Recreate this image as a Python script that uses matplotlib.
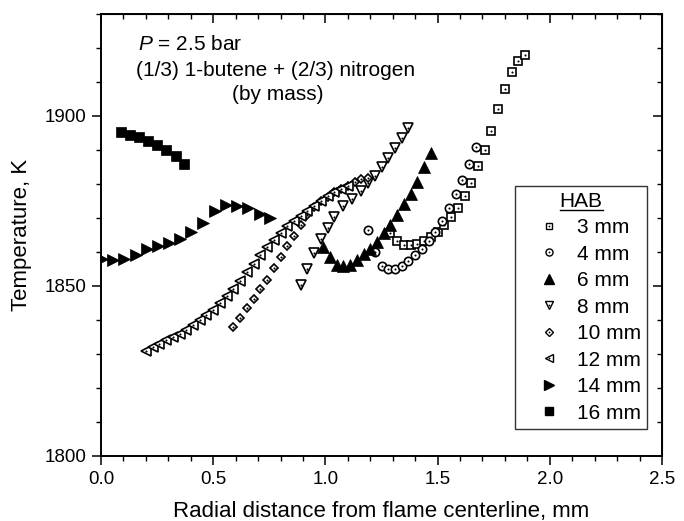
import matplotlib
matplotlib.use("Agg")
import matplotlib.pyplot as plt
from matplotlib.ticker import MultipleLocator
from matplotlib.lines import Line2D

plt.rcParams["font.family"] = ["Liberation Sans", "DejaVu Sans"]
plt.rcParams["mathtext.fontset"] = "custom"
plt.rcParams["mathtext.it"] = "Liberation Sans:italic"
plt.rcParams["mathtext.rm"] = "Liberation Sans"

# radial distance (mm) and temperature (K) for each height above burner
r_3mm = [1.29, 1.32, 1.35, 1.38, 1.41, 1.44, 1.47, 1.50, 1.53, 1.56, 1.59,
         1.62, 1.65, 1.68, 1.71, 1.74, 1.77, 1.80, 1.83, 1.86, 1.89]
t_3mm = [1865.7, 1863.2, 1862.0, 1862.0, 1862.4, 1863.2, 1864.5, 1866.0, 1868.0,
         1870.3, 1873.0, 1876.5, 1880.4, 1885.2, 1890.0, 1895.7, 1902.0, 1908.0,
         1913.0, 1916.3, 1917.8]

r_4mm = [1.19, 1.22, 1.25, 1.28, 1.31, 1.34, 1.37, 1.40, 1.43, 1.46, 1.49,
         1.52, 1.55, 1.58, 1.61, 1.64, 1.67]
t_4mm = [1866.5, 1860.0, 1856.0, 1855.0, 1855.0, 1855.8, 1857.3, 1859.0, 1861.0,
         1863.2, 1866.0, 1869.2, 1873.0, 1877.0, 1881.2, 1885.8, 1891.0]

r_6mm = [0.99, 1.02, 1.05, 1.08, 1.11, 1.14, 1.17, 1.20, 1.23, 1.26, 1.29,
         1.32, 1.35, 1.38, 1.41, 1.44, 1.47]
t_6mm = [1861.5, 1858.5, 1856.3, 1855.8, 1856.3, 1857.6, 1859.3, 1861.0, 1863.0,
         1865.5, 1868.0, 1871.0, 1874.0, 1877.0, 1880.6, 1885.0, 1889.0]

r_8mm = [0.89, 0.92, 0.95, 0.98, 1.01, 1.04, 1.08, 1.12, 1.16, 1.19, 1.22,
         1.25, 1.28, 1.31, 1.34, 1.37]
t_8mm = [1850.4, 1855.1, 1859.6, 1863.9, 1867.2, 1870.4, 1873.4, 1875.7, 1878.0,
         1880.4, 1882.4, 1885.0, 1887.5, 1890.5, 1893.4, 1896.4]

r_10mm = [0.59, 0.62, 0.65, 0.68, 0.71, 0.74, 0.77, 0.80, 0.83, 0.86, 0.89,
          0.92, 0.95, 0.98, 1.01, 1.04, 1.07, 1.10, 1.13, 1.16, 1.19]
t_10mm = [1838.0, 1840.6, 1843.6, 1846.2, 1849.2, 1851.9, 1855.4, 1858.6, 1861.7,
          1864.7, 1868.0, 1871.0, 1873.2, 1875.0, 1876.3, 1877.5, 1878.5, 1879.4,
          1880.6, 1881.4, 1881.9]

r_12mm = [0.20, 0.23, 0.26, 0.29, 0.32, 0.35, 0.38, 0.41, 0.44, 0.47, 0.50,
          0.53, 0.56, 0.59, 0.62, 0.65, 0.68, 0.71, 0.74, 0.77, 0.80, 0.83,
          0.86, 0.89, 0.92, 0.95, 0.98, 1.01, 1.04, 1.07, 1.10]
t_12mm = [1831.0, 1832.0, 1833.0, 1834.0, 1835.0, 1836.0, 1837.0, 1838.5, 1840.0,
          1841.5, 1843.0, 1845.0, 1847.0, 1849.0, 1851.5, 1854.0, 1856.5, 1859.0,
          1861.5, 1863.5, 1865.5, 1867.5, 1869.0, 1870.5, 1872.0, 1873.5, 1875.0,
          1876.5, 1877.5, 1878.5, 1879.5]

r_14mm = [0.003, 0.055, 0.104, 0.155, 0.205, 0.256, 0.305, 0.353, 0.402, 0.454,
          0.506, 0.556, 0.605, 0.655, 0.707, 0.754]
t_14mm = [1857.8, 1857.6, 1857.8, 1859.0, 1860.8, 1861.7, 1862.5, 1863.9, 1865.9,
          1868.4, 1872.1, 1873.7, 1873.5, 1872.8, 1871.3, 1870.1]

r_16mm = [0.088, 0.129, 0.170, 0.211, 0.251, 0.290, 0.332, 0.371]
t_16mm = [1895.2, 1894.4, 1893.7, 1892.7, 1891.4, 1890.1, 1888.3, 1885.8]

labels = ["3 mm", "4 mm", "6 mm", "8 mm", "10 mm", "12 mm", "14 mm", "16 mm"]

# data, marker, filled, marker size
series = [
    (r_3mm, t_3mm, "s", False, 5.3),
    (r_4mm, t_4mm, "o", False, 6.0),
    (r_6mm, t_6mm, "^", True, 8.5),
    (r_8mm, t_8mm, "v", False, 6.5),
    (r_10mm, t_10mm, "D", False, 4.3),
    (r_12mm, t_12mm, "<", False, 6.5),
    (r_14mm, t_14mm, ">", True, 8.5),
    (r_16mm, t_16mm, "s", True, 6.5),
]

W, H = 684, 521
fig = plt.figure(figsize=(W / 100, H / 100), dpi=100)
ax = fig.add_axes([101 / W, 1 - 456 / H, 561 / W, 442 / H])

handles = []
for (r, t, m, filled, ms), lab in zip(series, labels):
    if filled:
        ax.plot(r, t, ls="none", marker=m, ms=ms, mfc="black", mec="black", mew=0.5)
        h = Line2D([], [], ls="none", marker=m, ms=ms * 0.8, mfc="black", mec="black")
    else:
        ax.plot(r, t, ls="none", marker=m, ms=ms, mfc="white", mec="black", mew=1.2)
        ax.plot(r, t, ls="none", marker="o", ms=1.5, mfc="black", mec="black", mew=0)
        h = (Line2D([], [], ls="none", marker=m, ms=ms * 0.85, mfc="white", mec="black", mew=1.0),
             Line2D([], [], ls="none", marker="o", ms=1.3, mfc="black", mec="black", mew=0))
    handles.append(h)

ax.set_xlim(0, 2.5)
ax.set_ylim(1800, 1930)
ax.xaxis.set_minor_locator(MultipleLocator(0.1))
ax.yaxis.set_major_locator(MultipleLocator(50))
ax.yaxis.set_minor_locator(MultipleLocator(10))
ax.set_xticks([0, 0.5, 1.0, 1.5, 2.0, 2.5], ["0.0", "0.5", "1.0", "1.5", "2.0", "2.5"])
ax.tick_params(which="major", direction="out", length=6.5, width=1.1, labelsize=13.5, pad=4)
ax.tick_params(which="minor", direction="out", length=3.5, width=1.0)
for s in ax.spines.values():
    s.set_linewidth(1.4)

# top / right ticks point inward, no labels
secx = ax.secondary_xaxis("top")
secx.xaxis.set_major_locator(MultipleLocator(0.5))
secx.xaxis.set_minor_locator(MultipleLocator(0.1))
secx.tick_params(which="major", direction="in", length=6.5, width=1.1, labeltop=False)
secx.tick_params(which="minor", direction="in", length=3.5, width=1.0)
secy = ax.secondary_yaxis("right")
secy.yaxis.set_major_locator(MultipleLocator(50))
secy.yaxis.set_minor_locator(MultipleLocator(10))
secy.tick_params(which="major", direction="in", length=6.5, width=1.1, labelright=False)
secy.tick_params(which="minor", direction="in", length=3.5, width=1.0)

ax.set_xlabel("Radial distance from flame centerline, mm", fontsize=16, labelpad=10)
ax.set_ylabel("Temperature, K", fontsize=16)
ax.yaxis.set_label_coords((32 - 101) / 561, 0.5)

fig.text(138 / W, 1 - 45 / H, "$P$ = 2.5 bar", fontsize=15, va="center")
fig.text(136 / W, 1 - 70 / H, "(1/3) 1-butene + (2/3) nitrogen", fontsize=15, va="center")
fig.text(232 / W, 1 - 95 / H, "(by mass)", fontsize=15, va="center")

leg = ax.legend(handles, labels, title="HAB", loc="lower right",
                bbox_to_anchor=(647 / W, 1 - 429 / H), bbox_transform=fig.transFigure,
                fontsize=15, title_fontsize=15, frameon=True, fancybox=False,
                edgecolor="black", handlelength=2.6, handletextpad=0.05,
                labelspacing=0.36, borderpad=0.3, borderaxespad=0)
leg.get_frame().set_linewidth(1.0)

# underline the legend title
fig.canvas.draw()
bb = leg.get_title().get_window_extent()
yl = (bb.y0 + 1) / H
fig.add_artist(Line2D([bb.x0 / W, bb.x1 / W], [yl, yl], color="black", lw=1.0,
                      transform=fig.transFigure))

fig.savefig("out.png", dpi=100)
